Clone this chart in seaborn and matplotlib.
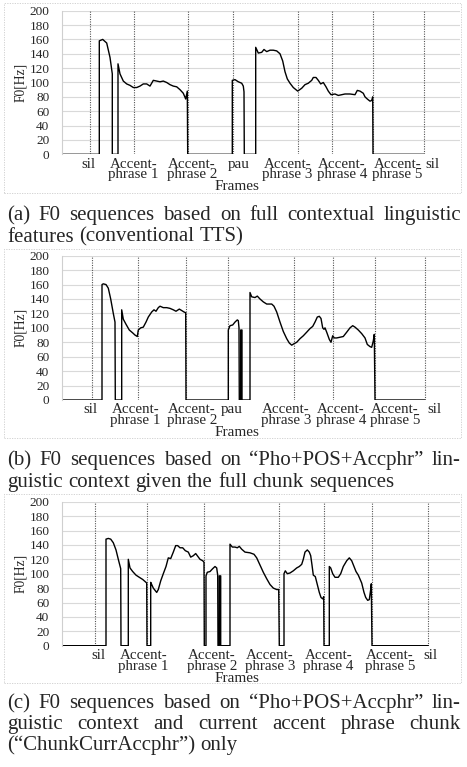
import numpy as np
import pandas as pd
import matplotlib
matplotlib.use("Agg")
import matplotlib.pyplot as plt
import seaborn as sns
from matplotlib.patches import Rectangle

W_PX, H_PX = 467, 767

# ---- panel (a): full contextual linguistic features ----
frames_a = [0, 37.3, 37.3, 40.7, 44.7, 48, 50.3, 50.3, 56, 56, 58, 61.3, 64.7, 68, 71.3, 74.7, 78,
            81.3, 84.7, 88, 91.3, 94.7, 98, 101.3, 104.7, 108, 111.3, 114.7, 118, 121.3, 123.7, 125.3,
            125.7, 170.3, 170.3, 173, 176.3, 179.7, 181.3, 182, 182.3, 193.7, 193.7, 196.3, 199.7, 202,
            204.7, 208, 211.3, 214.7, 218, 220.7, 223, 225.3, 228, 231.3, 235.7, 239.7, 243, 246.3, 249.7,
            251.3, 254, 256.3, 258.7, 261.3, 264, 266.3, 269, 273, 276.3, 279.7, 283, 288, 293, 295.3, 298,
            301.3, 303, 305.3, 308, 309.7, 310.7, 311, 362]
f0_a = [0, 0, 158, 160, 155, 135, 112, 0, 0, 126, 112, 102, 98, 96, 93, 93, 95,
        98, 98, 95, 103, 102, 101, 102, 100, 97, 95, 94, 90, 85, 77, 88,
        0, 0, 103, 104, 101, 99, 95, 87, 0, 0, 149, 141, 142, 146,
        143, 145, 145, 144, 140, 130, 115, 105, 99, 93, 88, 92, 97, 99, 103,
        107, 107, 103, 98, 100, 94, 88, 83, 84, 82, 83, 84, 84, 83, 89, 88,
        85, 80, 77, 74, 75, 80, 0, 0]
bounds_a = [28, 72.3, 125.7, 170.7, 235.7, 269.7, 311.3, 362]
ticks_a = [26, 71.3, 129.7, 176.3, 225.2, 279.7, 335.2, 370.7]
labels_a = ["sil", "Accent-\nphrase 1", "Accent-\nphrase 2", "pau", "Accent-\nphrase 3",
            "Accent-\nphrase 4", "Accent-\nphrase 5", "sil"]
caption_a = ["(a) F0 sequences based on full contextual linguistic",
             "features (conventional TTS)"]

# ---- panel (b): Pho+POS+Accphr, full chunk sequences ----
frames_b = [0, 40, 40, 41.3, 44, 46.3, 48.7, 51.3, 53, 53.3, 59.7, 59.7, 61.3, 64, 67.3, 70.7, 73,
            75.3, 76.3, 78.7, 81.3, 84, 86.3, 89.7, 92, 94, 96.3, 98, 101.3, 104.7, 108, 111.3, 114,
            117.3, 119.7, 122, 123.7, 124, 166.3, 166.3, 168, 170.7, 173, 175.3, 176.3, 177, 177.3,
            178.7, 178.7, 180, 180, 188, 188, 189.7, 193, 195.3, 198, 201.3, 204.7, 209.7, 212, 214.7,
            218, 221.3, 224.7, 227.3, 229.7, 232, 234.7, 238, 241.3, 244.7, 248, 250.7, 253, 255.3,
            257.3, 259, 260.7, 262, 263, 264.7, 267.3, 269, 270.7, 272.3, 274.7, 278, 281.3, 284.7,
            288, 290.7, 293, 296.3, 299.7, 303, 305.3, 308, 309.7, 311.3, 312.3, 313, 363]
f0_b = [0, 0, 160, 161, 160, 155, 140, 120, 108, 0, 0, 125, 112, 105, 97, 93, 90,
        88, 97, 100, 101, 108, 115, 122, 125, 123, 128, 130, 128, 128, 127, 125, 123,
        126, 124, 122, 121, 0, 0, 97, 103, 104, 108, 111, 110, 100, 0,
        0, 97, 97, 0, 0, 149, 143, 142, 144, 140, 136, 133, 133, 130, 122,
        108, 95, 85, 79, 76, 78, 80, 85, 89, 94, 99, 102, 108, 115,
        116, 113, 100, 98, 100, 94, 84, 80, 89, 86, 86, 87, 88, 94,
        100, 103, 101, 97, 92, 86, 77, 74, 73, 82, 91, 0, 0]
bounds_b = [29.7, 76.3, 124, 165.7, 232, 271.3, 313, 363]
ticks_b = [28.5, 73.2, 129.7, 169.7, 223.8, 278.8, 333, 372]
labels_b = labels_a
caption_b = ["(b) F0 sequences based on \u201cPho+POS+Accphr\u201d lin-",
             "guistic context given the full chunk sequences"]

# ---- panel (c): Pho+POS+Accphr, current accent phrase chunk only ----
frames_c = [0, 44, 44, 46.3, 48.7, 51.3, 54, 56.3, 58.7, 59, 66.3, 66.3, 68, 70.7, 74, 77.3, 80.7,
            84, 84.7, 85, 88.7, 88.7, 89.7, 91.3, 93, 94.7, 96.3, 98.7, 101.3, 104, 106.3, 108.7,
            111.3, 113.7, 115.7, 118, 120.7, 123.3, 126.3, 128.7, 131.3, 133.7, 135.3, 138, 140.7,
            142, 142.3, 144, 144, 145.3, 148, 150.7, 153, 154.7, 155.7, 156, 157.3, 157.3, 158.7,
            158.7, 168, 168, 170.3, 173, 175.3, 177.3, 179.7, 183, 188, 192, 194.7, 198, 201.3,
            204.7, 208, 211.3, 214.7, 216.7, 217.3, 222, 222, 223.3, 225.3, 228, 231.3, 234.7, 237.3,
            239.7, 241.3, 243, 245.3, 247.3, 248.7, 250, 251.3, 253.3, 255.3, 257.3, 259, 260.7,
            261.7, 262, 267.3, 267.3, 268.7, 270.7, 273, 276.3, 278.7, 281.3, 284.7, 287.3, 289.7,
            292, 294, 296.3, 299.7, 302, 303.7, 305.7, 307.3, 308.7, 309.3, 310, 366.3]
f0_c = [0, 0, 148, 149, 148, 143, 133, 120, 107, 0, 0, 120, 108, 103, 98, 95, 92,
        88, 87, 0, 0, 88, 85, 80, 77, 74, 78, 90, 100, 110, 122, 121,
        130, 139, 139, 136, 136, 132, 130, 123, 125, 128, 125, 120, 118,
        116, 0, 0, 97, 102, 103, 107, 110, 108, 98, 0, 0, 97, 97,
        0, 0, 141, 137, 137, 136, 138, 134, 130, 129, 127, 122, 112, 102,
        93, 85, 80, 78, 78, 0, 0, 100, 104, 100, 101, 104, 108, 110,
        113, 120, 130, 133, 130, 125, 112, 98, 96, 85, 74, 67, 65,
        68, 0, 0, 110, 108, 100, 95, 95, 100, 110, 118, 122, 118,
        110, 103, 98, 87, 74, 67, 63, 64, 78, 86, 0, 0]
bounds_c = [33, 84.7, 142, 217.3, 262.3, 309.7, 366.3]
ticks_c = [36, 81.3, 150, 208, 266.3, 328, 368]
labels_c = ["sil", "Accent-\nphrase 1", "Accent-\nphrase 2", "Accent-\nphrase 3",
            "Accent-\nphrase 4", "Accent-\nphrase 5", "sil"]
caption_c = ["(c) F0 sequences based on \u201cPho+POS+Accphr\u201d lin-",
             "guistic context and current accent phrase chunk",
             "(\u201cChunkCurrAccphr\u201d) only"]

y_ticks = list(range(0, 201, 20))

sns.set_style("white")
plt.rcParams['font.family'] = ['Liberation Serif', 'DejaVu Serif']

fig = plt.figure(figsize=(W_PX / 100, H_PX / 100), dpi=100)
renderer = fig.canvas.get_renderer()


def px_to_fig(x, y):
    return x / W_PX, 1 - y / H_PX


def place_caption(lines, baselines, x0=7, x1=461, size=15):
    # justified paragraph, last line left aligned
    for i, (line, yb) in enumerate(zip(lines, baselines)):
        words = line.split(" ")
        texts = [fig.text(0, 1 - yb / H_PX, w, fontsize=size, ha='left', va='baseline')
                 for w in words]
        widths = [t.get_window_extent(renderer).width for t in texts]
        last = i == len(lines) - 1
        if last or len(words) < 2:
            gap = size * 100 / 72 * 0.26
        else:
            gap = (x1 - x0 - sum(widths)) / (len(words) - 1)
        x = x0
        for t, w in zip(texts, widths):
            t.set_x(x / W_PX)
            x += w + gap


def draw_panel(frames, f0, bounds, ticks, labels, ax_top, ax_bot, frame_box, label_x):
    left, right = 62, 460
    x0, y0 = px_to_fig(left, ax_bot)
    ax = fig.add_axes([x0, y0, (right - left) / W_PX, (ax_bot - ax_top) / H_PX])
    df = pd.DataFrame({"Frames": frames, "F0": f0})
    sns.lineplot(data=df, x="Frames", y="F0", ax=ax, sort=False, estimator=None,
                 color="black", lw=1.0)
    for b in bounds:
        ax.axvline(b, color="#555555", ls=(0, (1, 1.2)), lw=0.8, zorder=1)
    ax.set_xlim(0, right - left)
    ax.set_ylim(0, 200)
    ax.set_yticks(y_ticks)
    ax.set_yticklabels([str(v) for v in y_ticks], fontsize=9.5)
    ax.set_xticks(ticks)
    ax.set_xticklabels(labels, fontsize=10.8, va='top')
    for lbl in ax.get_xticklabels():
        lbl.set_linespacing(0.74)
    ax.tick_params(axis='both', length=0)
    ax.tick_params(axis='x', pad=2.5)
    ax.tick_params(axis='y', pad=9)
    ax.grid(axis='y', color="#d9d9d9", lw=0.8)
    ax.set_axisbelow(True)
    ax.get_ygridlines()[0].set_visible(False)
    for s in ['top', 'right', 'bottom']:
        ax.spines[s].set_visible(False)
    ax.spines['left'].set_color("#cfcfcf")
    ax.spines['left'].set_linewidth(0.8)
    ax.set_ylabel("F0[Hz]", fontsize=9.8, va='center')
    ax.yaxis.set_label_coords(-0.105, 0.5)
    ax.set_xlabel("Frames", fontsize=11, va='center')
    ax.xaxis.set_label_coords(label_x, -0.225)

    bx0, by0, bx1, by1 = frame_box
    fx, fy = px_to_fig(bx0, by1)
    fig.patches.append(Rectangle((fx, fy), (bx1 - bx0) / W_PX, (by1 - by0) / H_PX,
                                 transform=fig.transFigure, fill=False, ec="#cccccc",
                                 lw=0.6, ls=(0, (1.5, 1.5))))
    return ax


draw_panel(frames_a, f0_a, bounds_a, ticks_a, labels_a, 10.7, 154.3, (4, 3, 461, 193), 0.439)
draw_panel(frames_b, f0_b, bounds_b, ticks_b, labels_b, 255.7, 400.0, (4, 249, 461, 438), 0.439)
draw_panel(frames_c, f0_c, bounds_c, ticks_c, labels_c, 501.7, 645.7, (4, 494, 461, 683), 0.439)

place_caption(caption_a, [220, 241.5])
place_caption(caption_b, [465, 486.7])
place_caption(caption_c, [708.3, 729.3, 750])

fig.savefig("out.png", dpi=100)
